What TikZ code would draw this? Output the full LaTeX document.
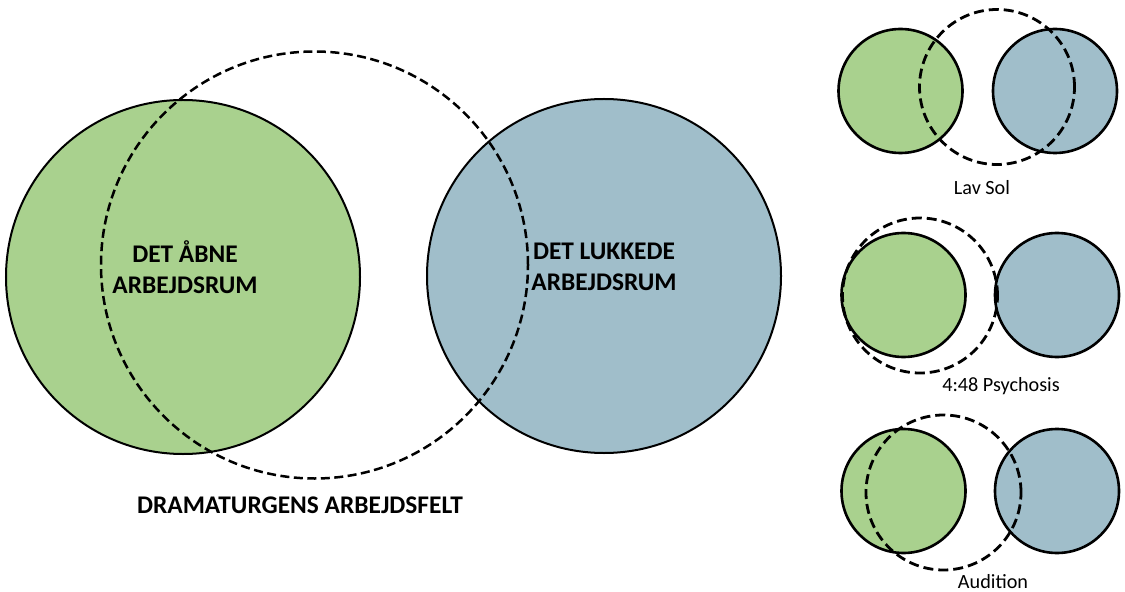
\documentclass[tikz,border=0pt]{standalone}
\usepackage{fontspec}
\setmainfont{Carlito}
\definecolor{opengreen}{RGB}{169,209,142}
\definecolor{closedblue}{RGB}{160,190,202}
\begin{document}
\begin{tikzpicture}[x=1bp,y=-1bp,
  bigcirc/.style={circle,draw=black,line width=2bp,inner sep=0pt,minimum size=354bp},
  bigdash/.style={circle,draw=black,line width=2.5bp,dash pattern=on 9bp off 4.5bp,inner sep=0pt,minimum size=427bp},
  smallcirc/.style={circle,draw=black,line width=2.6bp,inner sep=0pt,minimum size=124bp},
  smalldash/.style={circle,draw=black,line width=2.8bp,dash pattern=on 10bp off 5bp,inner sep=0pt,minimum size=155bp},
  bigtext/.style={font=\fontsize{25.4bp}{31bp}\selectfont\bfseries,align=center,inner sep=0pt},
  smalltext/.style={font=\fontsize{20.2bp}{24bp}\selectfont,inner sep=0pt}]
\useasboundingbox (0,0) rectangle (1125,592);
% main diagram
\node[bigcirc,fill=opengreen] (open) at (183,277) {};
\node[bigcirc,fill=closedblue] (closed) at (604,276) {};
\node[bigdash] (field) at (314.5,265) {};
\node[bigtext] (opentxt) at (185,267) {DET ÅBNE\\ARBEJDSRUM};
\node[bigtext] (closedtxt) at (604,267) {DET LUKKEDE\\ARBEJDSRUM};
\node[bigtext] (fieldtxt) at (300,505) {DRAMATURGENS ARBEJDSFELT};
% Lav Sol
\node[smallcirc,fill=opengreen] (g1) at (900.5,91) {};
\node[smallcirc,fill=closedblue] (b1) at (1055,91) {};
\node[smalldash] (d1) at (997,87) {};
\node[smalltext] (t1) at (982,188) {Lav Sol};
% 4:48 Psychosis
\node[smallcirc,fill=opengreen] (g2) at (903.5,295) {};
\node[smallcirc,fill=closedblue] (b2) at (1057,295) {};
\node[smalldash] (d2) at (920,295.5) {};
\node[smalltext] (t2) at (1001,386) {4:48 Psychosis};
% Audition
\node[smallcirc,fill=opengreen] (g3) at (903.5,491) {};
\node[smallcirc,fill=closedblue] (b3) at (1057,491) {};
\node[smalldash] (d3) at (943.5,492.5) {};
\node[smalltext] (t3) at (993,582) {Audition};
\end{tikzpicture}
\end{document}
